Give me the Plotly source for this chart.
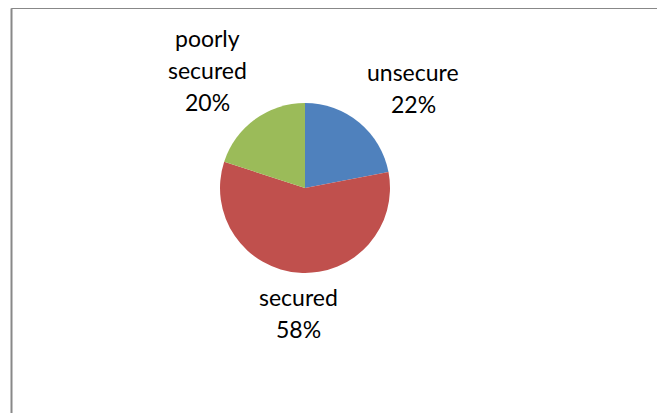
import plotly.graph_objects as go

labels = ["unsecure", "secured", "poorly secured"]
values = [22, 58, 20]
colors = ["#4F81BD", "#C0504D", "#9BBB59"]

# page body has an 8px margin, so the figure is sized to fit the 665x413 window
W, H = 657, 405
# label block anchor (first line centre, in px from top-left of the figure)
label_anchor = [(405, 64), (290, 289), (199, 30)]
line_gap = 32

fig = go.Figure(go.Pie(
    labels=labels, values=values, sort=False, direction="clockwise", rotation=0,
    marker=dict(colors=colors, line=dict(width=0)),
    textinfo="none",
    domain=dict(x=[212 / W, 382 / W], y=[(H - 265) / H, (H - 95) / H]),
    showlegend=False, hoverinfo="label+percent",
))

for lab, val, (ax, ay) in zip(labels, values, label_anchor):
    lines = lab.split(" ") + [f"{val}%"]
    for i, ln in enumerate(lines):
        fig.add_annotation(text=ln, x=ax / W, y=1 - (ay + i * line_gap) / H,
                           xref="paper", yref="paper", showarrow=False,
                           xanchor="center", yanchor="middle",
                           font=dict(family="Lato", size=23, color="#000000"))

fig.add_shape(type="rect", xref="paper", yref="paper",
              x0=3.5 / W, x1=656 / W, y0=-0.05, y1=1 - 0.5 / H,
              line=dict(color="#888888", width=1), fillcolor="rgba(0,0,0,0)")
fig.add_shape(type="line", xref="paper", yref="paper",
              x0=3.5 / W, x1=3.5 / W, y0=-0.05, y1=1 - 0.5 / H,
              line=dict(color="#888888", width=2))
fig.update_layout(width=W, height=H, margin=dict(l=0, r=0, t=0, b=0),
                  paper_bgcolor="white", plot_bgcolor="white")
fig.write_html("out.html")
